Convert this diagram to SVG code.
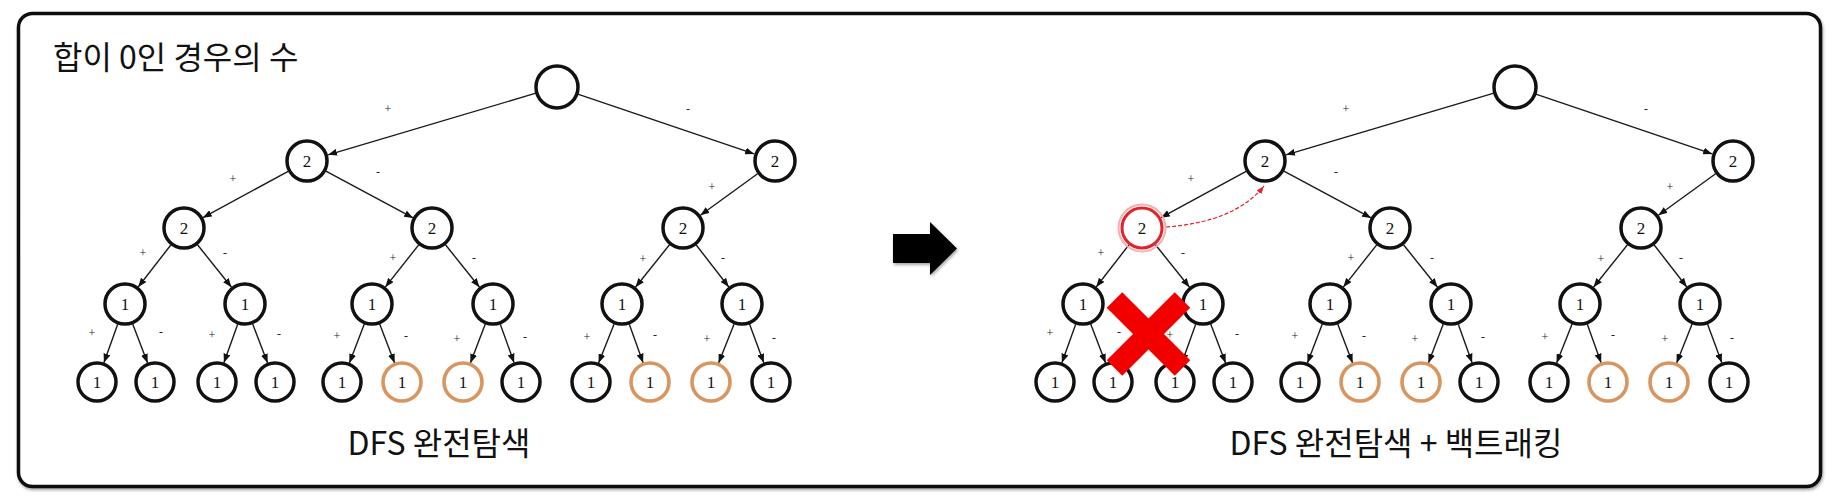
<svg xmlns="http://www.w3.org/2000/svg" width="1837" height="504" viewBox="0 0 1837 504">
<style>
.node circle{fill:#fff;stroke:#111;stroke-width:3.5}
.node.hit circle{stroke:#D9955F;stroke-width:3.6}
.node.cut circle{stroke:#E0242B;stroke-width:3}
.node text{font-family:"Liberation Serif","DejaVu Serif",serif;font-size:17px;fill:#111;text-anchor:middle}
.edges line{stroke:#1a1a1a;stroke-width:1.4;marker-end:url(#ah)}
.lbl text{font-family:"Liberation Serif","DejaVu Serif",serif;font-size:12px;fill:#222;text-anchor:middle}
.ko{font-family:"Noto Sans CJK KR","Noto Sans",sans-serif;fill:#111}
</style>
<defs>
<marker id="ah" markerUnits="userSpaceOnUse" markerWidth="9" markerHeight="7" refX="9" refY="3.5" orient="auto"><path d="M0,0 L9,3.5 L0,7 Z" fill="#111"/></marker>
<marker id="ahr" markerUnits="userSpaceOnUse" markerWidth="8" markerHeight="6" refX="8" refY="3" orient="auto"><path d="M0,0 L8,3 L0,6 Z" fill="#E0242B"/></marker>
<filter id="sh" x="-20%" y="-20%" width="140%" height="140%"><feGaussianBlur in="SourceAlpha" stdDeviation="1.5"/><feOffset dx="1" dy="2"/><feComponentTransfer><feFuncA type="linear" slope="0.35"/></feComponentTransfer><feMerge><feMergeNode/><feMergeNode in="SourceGraphic"/></feMerge></filter>
</defs>
<rect width="1837" height="504" fill="#fff"/>
<rect id="frame" x="18.5" y="13.5" width="1802" height="473" rx="14" fill="#fff" stroke="#111" stroke-width="3.5" filter="url(#sh)"/>
<text id="title" class="ko" x="53" y="69" font-size="32">합이 0인 경우의 수</text>

<g id="connectors" class="edges">
<!-- left tree -->
<line x1="535.9" y1="93.2" x2="328.1" y2="154.8"/>
<line x1="577.8" y1="94.1" x2="754.2" y2="153.9"/>
<line x1="288.1" y1="171.3" x2="202.9" y2="217.7"/>
<line x1="325.9" y1="171.2" x2="413.1" y2="217.9"/>
<line x1="757.6" y1="173.7" x2="700.4" y2="215.3"/>
<line x1="170.8" y1="245" x2="138.2" y2="287"/>
<line x1="197.5" y1="244.8" x2="231.5" y2="287.2"/>
<line x1="418.7" y1="244.9" x2="385.3" y2="287.1"/>
<line x1="445.5" y1="244.8" x2="479.5" y2="287.2"/>
<line x1="669.5" y1="244.8" x2="635.5" y2="287.2"/>
<line x1="696.2" y1="245" x2="728.8" y2="287"/>
<line x1="117.7" y1="324.2" x2="103.9" y2="362.7"/>
<line x1="132.7" y1="324.1" x2="147.6" y2="362.9"/>
<line x1="237.7" y1="324.2" x2="223.9" y2="362.7"/>
<line x1="252.7" y1="324.1" x2="267.6" y2="362.9"/>
<line x1="364.3" y1="324.1" x2="349.4" y2="362.9"/>
<line x1="379.7" y1="324.1" x2="394.6" y2="362.9"/>
<line x1="485.3" y1="324.1" x2="470.4" y2="362.9"/>
<line x1="500.3" y1="324.2" x2="514.1" y2="362.7"/>
<line x1="614.1" y1="324" x2="598.6" y2="363"/>
<line x1="629.3" y1="324.2" x2="643.1" y2="362.7"/>
<line x1="734.1" y1="324" x2="718.6" y2="363"/>
<line x1="749.5" y1="324.1" x2="763.8" y2="362.8"/>
<!-- right tree -->
<line x1="1493.9" y1="93.2" x2="1286.1" y2="154.8"/>
<line x1="1535.8" y1="94.1" x2="1712.2" y2="153.9"/>
<line x1="1246.1" y1="171.3" x2="1160.9" y2="217.7"/>
<line x1="1283.9" y1="171.2" x2="1371.1" y2="217.9"/>
<line x1="1715.6" y1="173.7" x2="1658.4" y2="215.3"/>
<line x1="1128.8" y1="245" x2="1096.2" y2="287"/>
<line x1="1155.5" y1="244.8" x2="1189.5" y2="287.2"/>
<line x1="1376.7" y1="244.9" x2="1343.3" y2="287.1"/>
<line x1="1403.5" y1="244.8" x2="1437.5" y2="287.2"/>
<line x1="1627.5" y1="244.8" x2="1593.5" y2="287.2"/>
<line x1="1654.2" y1="245" x2="1686.8" y2="287"/>
<line x1="1075.7" y1="324.2" x2="1061.9" y2="362.7"/>
<line x1="1090.7" y1="324.1" x2="1105.6" y2="362.9"/>
<line x1="1195.7" y1="324.2" x2="1181.9" y2="362.7"/>
<line x1="1210.7" y1="324.1" x2="1225.6" y2="362.9"/>
<line x1="1322.3" y1="324.1" x2="1307.4" y2="362.9"/>
<line x1="1337.7" y1="324.1" x2="1352.6" y2="362.9"/>
<line x1="1443.3" y1="324.1" x2="1428.4" y2="362.9"/>
<line x1="1458.3" y1="324.2" x2="1472.1" y2="362.7"/>
<line x1="1572.1" y1="324" x2="1556.6" y2="363"/>
<line x1="1587.3" y1="324.2" x2="1601.1" y2="362.7"/>
<line x1="1692.1" y1="324" x2="1676.6" y2="363"/>
<line x1="1707.5" y1="324.1" x2="1721.8" y2="362.8"/>
<path id="backtrack" d="M1166,227 Q1235,222 1264,186" fill="none" stroke="#E0242B" stroke-width="1.2" stroke-dasharray="4 2" style="marker-end:url(#ahr)"/>
</g>

<g id="edge-labels" class="lbl">
<text x="388" y="113">+</text><text x="688" y="113">-</text>
<text x="233" y="183">+</text><text x="378" y="176">-</text><text x="712" y="191">+</text>
<text x="143" y="257">+</text><text x="225" y="257">-</text><text x="393" y="262">+</text><text x="474" y="262">-</text><text x="643" y="263">+</text><text x="723" y="262">-</text>
<text x="92" y="337">+</text><text x="161" y="336">-</text><text x="212" y="339">+</text><text x="279" y="338">-</text><text x="337" y="340">+</text><text x="406" y="340">-</text><text x="457" y="343">+</text><text x="525" y="341">-</text><text x="587" y="341">+</text><text x="655" y="339">-</text><text x="707" y="343">+</text><text x="774" y="342">-</text>
<text x="1346" y="113">+</text><text x="1646" y="113">-</text>
<text x="1191" y="183">+</text><text x="1336" y="176">-</text><text x="1670" y="191">+</text>
<text x="1101" y="257">+</text><text x="1183" y="257">-</text><text x="1351" y="262">+</text><text x="1432" y="262">-</text><text x="1601" y="263">+</text><text x="1681" y="262">-</text>
<text x="1050" y="337">+</text><text x="1119" y="336">-</text><text x="1170" y="339">+</text><text x="1237" y="338">-</text><text x="1295" y="340">+</text><text x="1364" y="340">-</text><text x="1415" y="343">+</text><text x="1483" y="341">-</text><text x="1545" y="341">+</text><text x="1613" y="339">-</text><text x="1665" y="343">+</text><text x="1732" y="342">-</text>
</g>

<!-- left tree nodes -->
<g id="L0" class="node"><circle cx="557" cy="87" r="21"/></g>
<g id="L1" class="node"><circle cx="307" cy="161" r="20"/><text x="307" y="167">2</text></g>
<g id="L2" class="node"><circle cx="775" cy="161" r="20"/><text x="775" y="167">2</text></g>
<g id="L3" class="node"><circle cx="184" cy="228" r="20"/><text x="184" y="234">2</text></g>
<g id="L4" class="node"><circle cx="432" cy="228" r="20"/><text x="432" y="234">2</text></g>
<g id="L5" class="node"><circle cx="683" cy="228" r="20"/><text x="683" y="234">2</text></g>
<g id="L6" class="node"><circle cx="125" cy="304" r="20"/><text x="125" y="310">1</text></g>
<g id="L7" class="node"><circle cx="245" cy="304" r="20"/><text x="245" y="310">1</text></g>
<g id="L8" class="node"><circle cx="372" cy="304" r="20"/><text x="372" y="310">1</text></g>
<g id="L9" class="node"><circle cx="493" cy="304" r="20"/><text x="493" y="310">1</text></g>
<g id="L10" class="node"><circle cx="622" cy="304" r="20"/><text x="622" y="310">1</text></g>
<g id="L11" class="node"><circle cx="742" cy="304" r="20"/><text x="742" y="310">1</text></g>
<g id="L12" class="node"><circle cx="97" cy="382" r="19"/><text x="97" y="388">1</text></g>
<g id="L13" class="node"><circle cx="155" cy="382" r="19"/><text x="155" y="388">1</text></g>
<g id="L14" class="node"><circle cx="217" cy="382" r="19"/><text x="217" y="388">1</text></g>
<g id="L15" class="node"><circle cx="275" cy="382" r="19"/><text x="275" y="388">1</text></g>
<g id="L16" class="node"><circle cx="342" cy="382" r="19"/><text x="342" y="388">1</text></g>
<g id="L17" class="node hit"><circle cx="402" cy="382" r="19"/><text x="402" y="388">1</text></g>
<g id="L18" class="node hit"><circle cx="463" cy="382" r="19"/><text x="463" y="388">1</text></g>
<g id="L19" class="node"><circle cx="521" cy="382" r="19"/><text x="521" y="388">1</text></g>
<g id="L20" class="node"><circle cx="591" cy="382" r="19"/><text x="591" y="388">1</text></g>
<g id="L21" class="node hit"><circle cx="650" cy="382" r="19"/><text x="650" y="388">1</text></g>
<g id="L22" class="node hit"><circle cx="711" cy="382" r="19"/><text x="711" y="388">1</text></g>
<g id="L23" class="node"><circle cx="771" cy="382" r="19"/><text x="771" y="388">1</text></g>

<!-- right tree nodes -->
<g id="R0" class="node"><circle cx="1515" cy="87" r="21"/></g>
<g id="R1" class="node"><circle cx="1265" cy="161" r="20"/><text x="1265" y="167">2</text></g>
<g id="R2" class="node"><circle cx="1733" cy="161" r="20"/><text x="1733" y="167">2</text></g>
<g id="R3" class="node cut"><circle cx="1142" cy="228" r="23.5" style="fill:none;stroke:#F6B0B0;stroke-width:2"/><circle cx="1142" cy="228" r="20"/><text x="1142" y="234">2</text></g>
<g id="R4" class="node"><circle cx="1390" cy="228" r="20"/><text x="1390" y="234">2</text></g>
<g id="R5" class="node"><circle cx="1641" cy="228" r="20"/><text x="1641" y="234">2</text></g>
<g id="R6" class="node"><circle cx="1083" cy="304" r="20"/><text x="1083" y="310">1</text></g>
<g id="R7" class="node"><circle cx="1203" cy="304" r="20"/><text x="1203" y="310">1</text></g>
<g id="R8" class="node"><circle cx="1330" cy="304" r="20"/><text x="1330" y="310">1</text></g>
<g id="R9" class="node"><circle cx="1451" cy="304" r="20"/><text x="1451" y="310">1</text></g>
<g id="R10" class="node"><circle cx="1580" cy="304" r="20"/><text x="1580" y="310">1</text></g>
<g id="R11" class="node"><circle cx="1700" cy="304" r="20"/><text x="1700" y="310">1</text></g>
<g id="R12" class="node"><circle cx="1055" cy="382" r="19"/><text x="1055" y="388">1</text></g>
<g id="R13" class="node"><circle cx="1113" cy="382" r="19"/><text x="1113" y="388">1</text></g>
<g id="R14" class="node"><circle cx="1175" cy="382" r="19"/><text x="1175" y="388">1</text></g>
<g id="R15" class="node"><circle cx="1233" cy="382" r="19"/><text x="1233" y="388">1</text></g>
<g id="R16" class="node"><circle cx="1300" cy="382" r="19"/><text x="1300" y="388">1</text></g>
<g id="R17" class="node hit"><circle cx="1360" cy="382" r="19"/><text x="1360" y="388">1</text></g>
<g id="R18" class="node hit"><circle cx="1421" cy="382" r="19"/><text x="1421" y="388">1</text></g>
<g id="R19" class="node"><circle cx="1479" cy="382" r="19"/><text x="1479" y="388">1</text></g>
<g id="R20" class="node"><circle cx="1549" cy="382" r="19"/><text x="1549" y="388">1</text></g>
<g id="R21" class="node hit"><circle cx="1608" cy="382" r="19"/><text x="1608" y="388">1</text></g>
<g id="R22" class="node hit"><circle cx="1669" cy="382" r="19"/><text x="1669" y="388">1</text></g>
<g id="R23" class="node"><circle cx="1729" cy="382" r="19"/><text x="1729" y="388">1</text></g>

<g id="prune-x">
<line x1="1114.5" y1="300" x2="1182.5" y2="368" stroke="#F20000" stroke-width="22"/>
<line x1="1182.5" y1="300" x2="1114.5" y2="368" stroke="#F20000" stroke-width="22"/>
</g>

<polygon id="big-arrow" points="893,234 930,234 930,222 957,248.5 930,275 930,263 893,263" fill="#000" filter="url(#sh)"/>

<text id="label-left" class="ko" x="439" y="455" font-size="32" text-anchor="middle">DFS 완전탐색</text>
<text id="label-right" class="ko" x="1396" y="455" font-size="32" text-anchor="middle">DFS 완전탐색 + 백트래킹</text>
</svg>
